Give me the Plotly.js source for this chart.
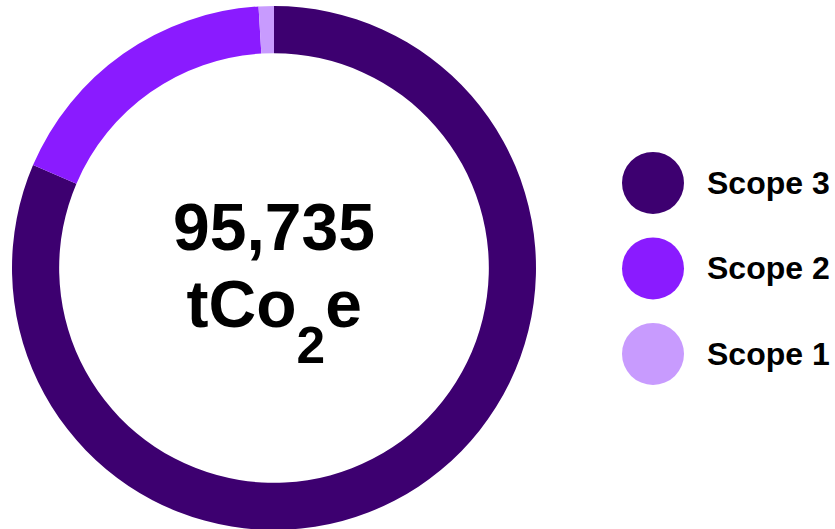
<!DOCTYPE html>
<html>
<head>
<meta charset="utf-8">
<script src="https://cdn.plot.ly/plotly-3.0.1.min.js"></script>
<style>
html,body{margin:0;padding:0;overflow:hidden;background:#fff;}
#chart{width:835px;height:530px;}
</style>
</head>
<body>
<div id="chart"></div>
<script>
const categories = ['Scope 3', 'Scope 2', 'Scope 1'];
const values = [77950, 16885, 900];
const colors = ['#3d0070', '#8a1bff', '#c89bfe'];
const totalLabel = '95,735';
const unitLabel = 'tCo<sub>2</sub>e';
const legendX = [0, 0, 0];

const FONT = '"Liberation Sans", Arial, Helvetica, sans-serif';

const pie = {
  type: 'pie',
  labels: categories,
  values: values,
  marker: {colors: colors, line: {width: 0}},
  hole: 0.82,
  sort: false,
  direction: 'clockwise',
  rotation: 0,
  textinfo: 'none',
  hoverinfo: 'label+value',
  showlegend: false,
  domain: {x: [12/835, 536/835], y: [0, 1]}
};

const legendTrace = {
  type: 'scatter',
  mode: 'markers',
  x: legendX,
  y: categories.map((c, i) => i),
  xaxis: 'x',
  yaxis: 'y',
  marker: {size: 62, color: colors, line: {width: 0}},
  hoverinfo: 'skip',
  showlegend: false
};

const annotations = [
  {text: '<b>' + totalLabel + '</b>', xref: 'paper', yref: 'paper', x: 274/835, y: 1 - (226.5-6)/524,
   xanchor: 'center', yanchor: 'middle', showarrow: false, font: {family: FONT, size: 66, color: '#000'}},
  {text: '<b>' + unitLabel + '</b>', xref: 'paper', yref: 'paper', x: 274/835, y: 1 - (309-6)/524,
   xanchor: 'center', yanchor: 'middle', showarrow: false, font: {family: FONT, size: 66, color: '#000'}}
];
categories.forEach((c, i) => {
  annotations.push({text: '<b>' + c + '</b>', xref: 'x', yref: 'y', x: legendX[i], y: i,
    xanchor: 'left', yanchor: 'middle', xshift: 52, showarrow: false,
    font: {family: FONT, size: 32, color: '#000'}});
});

const layout = {
  width: 835, height: 530,
  margin: {l: 0, r: 0, t: 6, b: 0},
  paper_bgcolor: '#fff', plot_bgcolor: 'rgba(0,0,0,0)',
  showlegend: false,
  xaxis: {domain: [0, 1], range: [-653, 182], visible: false, fixedrange: true},
  yaxis: {domain: [0, 1], range: [4.059, -2.070], visible: false, fixedrange: true},
  annotations: annotations
};

Plotly.newPlot('chart', [pie, legendTrace], layout, {displayModeBar: false, staticPlot: true}).then(function (gd) {
  // larger, lower subscript as in the reference
  gd.querySelectorAll('.annotation-text tspan').forEach(function (t) {
    var dy = t.getAttribute('dy');
    if (dy === '0.3em') { t.style.fontSize = '78%'; t.setAttribute('dy', '0.7em'); }
    else if (dy === '-0.21em') { t.setAttribute('dy', '-0.546em'); }
  });
});
</script>
</body>
</html>
